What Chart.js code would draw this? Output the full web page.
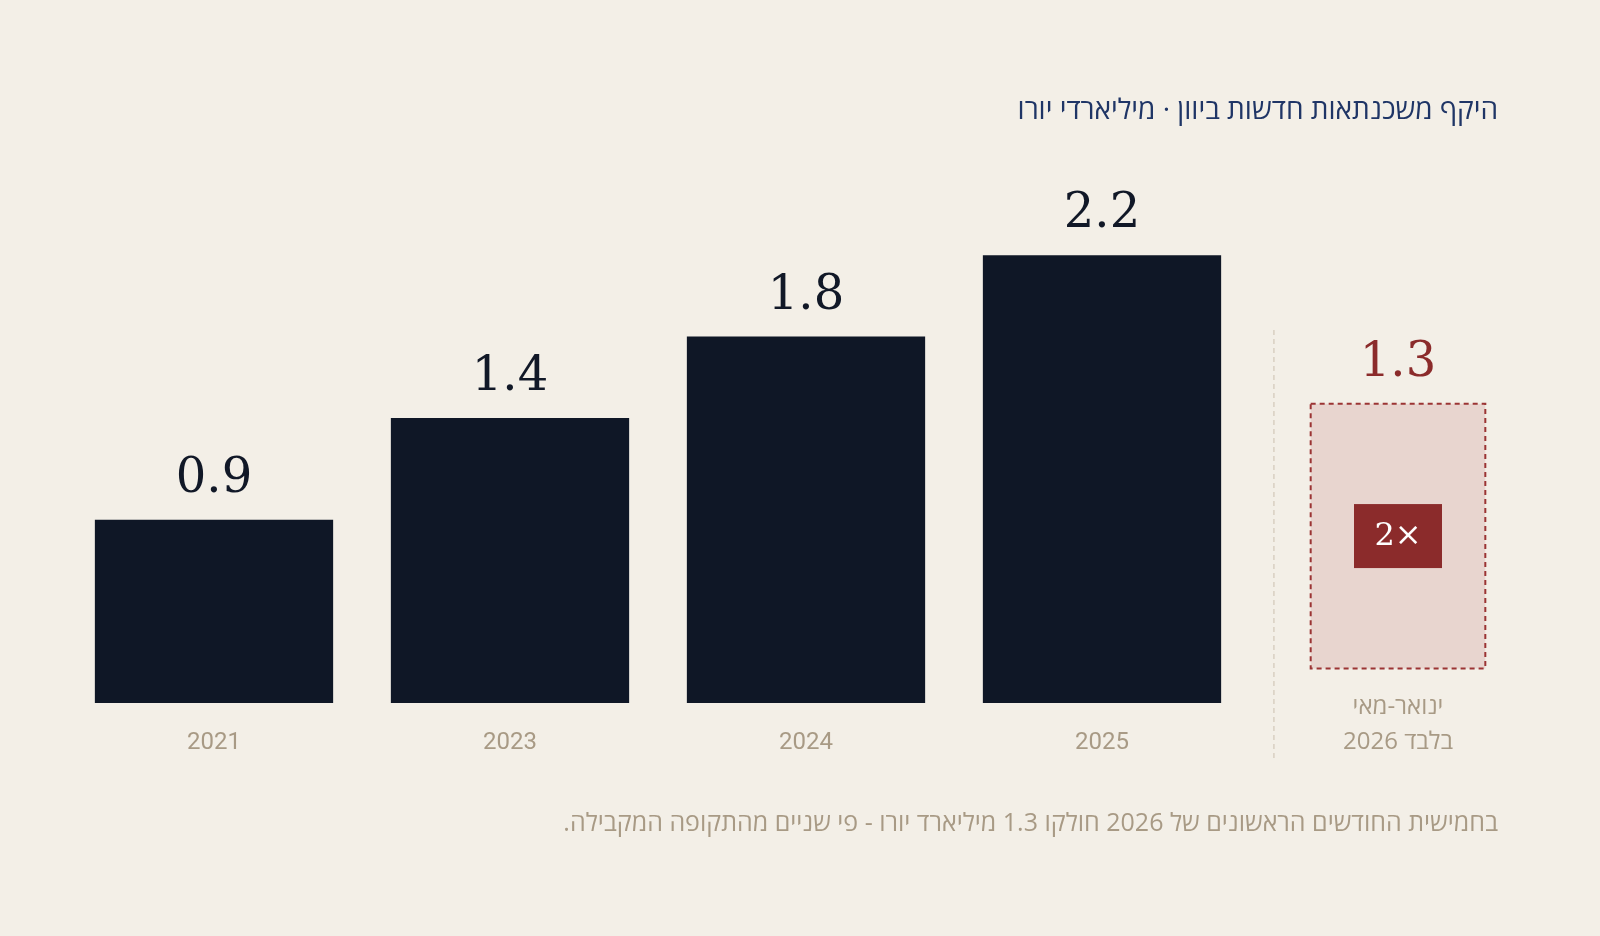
<!DOCTYPE html>
<html lang="he">
<head>
<meta charset="utf-8">
<script src="https://cdn.jsdelivr.net/npm/chart.js@4"></script>
<style>
  html, body { margin: 0; padding: 0; background: #f3efe7; }
  #wrap { position: relative; width: 1600px; height: 936px; }
  .title { position: absolute; right: 102px; top: 89px; direction: rtl; font: 28px "Open Sans", Roboto, sans-serif; color: #1f3566; }
  .note { position: absolute; right: 102px; top: 804px; direction: rtl; font: 25px "Open Sans", Roboto, sans-serif; color: #a89a85; }
</style>
</head>
<body>
<div id="wrap">
  <canvas id="chart" width="1600" height="936"></canvas>
  <div class="title">היקף משכנתאות חדשות ביוון · מיליארדי יורו</div>
  <div class="note">בחמישית החודשים הראשונים של 2026 חולקו 1.3 מיליארד יורו - פי שניים מהתקופה המקבילה.</div>
</div>
<script>
const categories = ["2021", "2023", "2024", "2025", "2026"];
const yearValues = [0.9, 1.4, 1.8, 2.2, null];
const partialValue = 1.3;
const partialLabel = ["ינואר-מאי", "2026 בלבד"];
const badgeText = "2×";

const LIFT = 0.17; // the partial-year box sits slightly above the baseline
const serif = '"DejaVu Serif", "Liberation Serif", serif';
const sans = 'Roboto, "Open Sans", sans-serif';

const decor = {
  id: "decor",
  afterDatasetsDraw(chart) {
    const ctx = chart.ctx;
    const main = chart.getDatasetMeta(0).data;
    const part = chart.getDatasetMeta(1).data[4];

    ctx.save();
    ctx.textAlign = "center";
    ctx.textBaseline = "alphabetic";

    // value labels and year labels
    for (let i = 0; i < 4; i++) {
      const bar = main[i];
      ctx.fillStyle = "#111827";
      ctx.font = "48px " + serif;
      ctx.fillText(yearValues[i].toFixed(1), bar.x, bar.y - 28);
      ctx.fillStyle = "#a89a85";
      ctx.font = "24px " + sans;
      ctx.fillText(categories[i], bar.x, 749);
    }

    // separator
    const sepX = (main[3].x + main[3].width / 2 + part.x - part.width / 2) / 2 + 8;
    ctx.strokeStyle = "#d9cfc1";
    ctx.lineWidth = 1.5;
    ctx.setLineDash([5, 4]);
    ctx.beginPath();
    ctx.moveTo(sepX, 330);
    ctx.lineTo(sepX, 758);
    ctx.stroke();

    // dashed border around partial box
    const left = part.x - part.width / 2, top = part.y, h = part.base - part.y;
    ctx.strokeStyle = "#9b3434";
    ctx.lineWidth = 2;
    ctx.setLineDash([5, 4]);
    ctx.strokeRect(left, top, part.width, h);
    ctx.setLineDash([]);

    // value
    ctx.fillStyle = "#8b2b2b";
    ctx.font = "48px " + serif;
    ctx.fillText(partialValue.toFixed(1), part.x, top - 28);

    // badge
    const cy = top + h / 2;
    ctx.fillStyle = "#8b2b2b";
    ctx.fillRect(part.x - 44, cy - 32, 88, 64);
    ctx.fillStyle = "#ffffff";
    ctx.font = "32px " + serif;
    ctx.textBaseline = "middle";
    ctx.fillText(badgeText, part.x, cy + 1);

    // label
    ctx.textBaseline = "alphabetic";
    ctx.fillStyle = "#a89a85";
    ctx.font = '24px "Open Sans", Roboto, sans-serif';
    ctx.fillText(partialLabel[0], part.x, 714);
    ctx.fillText(partialLabel[1], part.x, 749);
    ctx.restore();
  }
};

new Chart(document.getElementById("chart"), {
  type: "bar",
  data: {
    labels: categories,
    datasets: [
      {
        data: yearValues,
        backgroundColor: "#0f1726",
        barPercentage: 0.805,
        categoryPercentage: 1,
        grouped: false
      },
      {
        data: [null, null, null, null, [LIFT, LIFT + partialValue]],
        backgroundColor: "#e8d5cf",
        barPercentage: 0.59,
        categoryPercentage: 1,
        grouped: false
      }
    ]
  },
  options: {
    responsive: false,
    animation: false,
    events: [],
    layout: { padding: { left: 66, right: 54, top: 133, bottom: 233 } },
    plugins: { legend: { display: false }, tooltip: { enabled: false } },
    scales: {
      x: { display: false },
      y: { display: false, min: 0, max: 2.8 }
    }
  },
  plugins: [decor]
});
</script>
</body>
</html>
